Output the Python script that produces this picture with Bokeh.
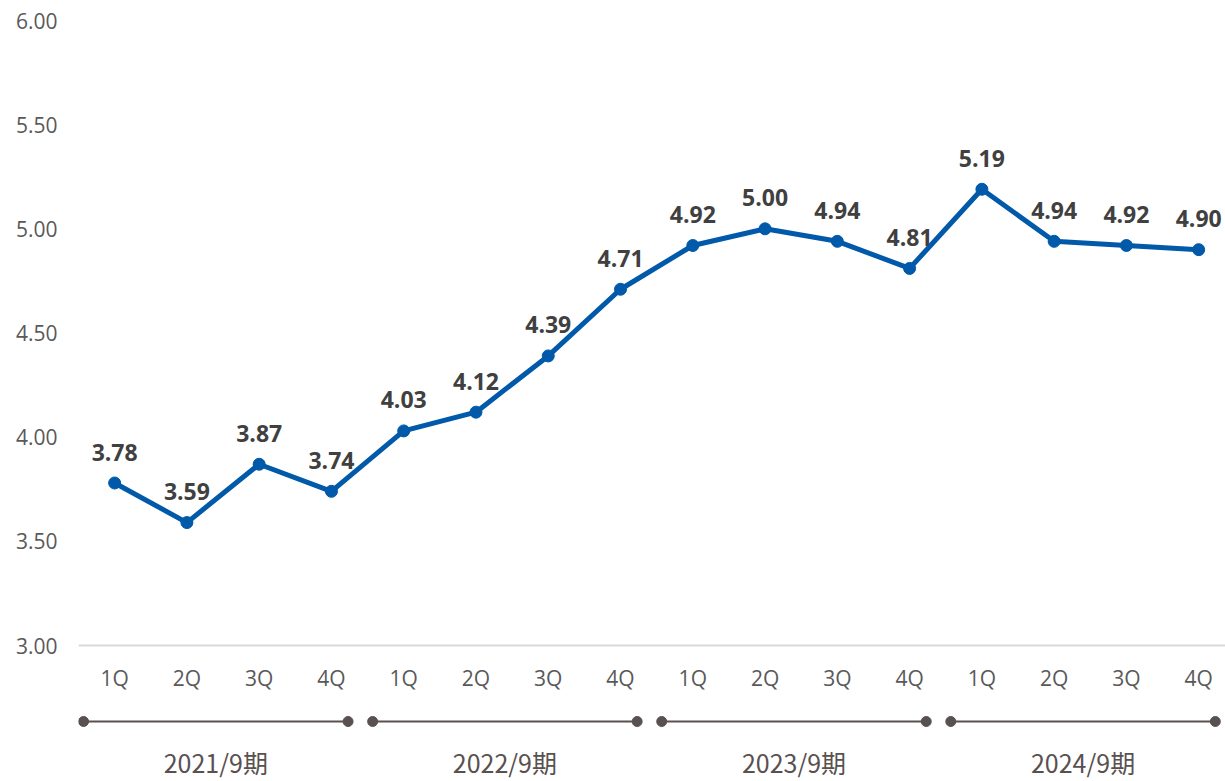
from bokeh.plotting import figure
from bokeh.models import Range1d, FixedTicker, Span, NumeralTickFormatter
from bokeh.core.properties import value
from bokeh.embed import file_html
from bokeh.resources import INLINE

# ---- data ----
quarters = ["1Q", "2Q", "3Q", "4Q"] * 4
values = [3.78, 3.59, 3.87, 3.74, 4.03, 4.12, 4.39, 4.71,
          4.92, 5.00, 4.94, 4.81, 5.19, 4.94, 4.92, 4.90]
labels = ["3.78", "3.59", "3.87", "3.74", "4.03", "4.12", "4.39", "4.71",
          "4.92", "5.00", "4.94", "4.81", "5.19", "4.94", "4.92", "4.90"]
years = ["2021/9期", "2022/9期", "2023/9期", "2024/9期"]
y_ticks = [3.0, 3.5, 4.0, 4.5, 5.0, 5.5, 6.0]

# ---- layout ----
W, H = 1225, 781
LEFT, TOP = 78, 20
px_per_unit = 625 / 3.0
px_per_cat = 72.27
frame_h = H - TOP
y_start = 6.0 - frame_h / px_per_unit
x_end = -0.5 + (W - LEFT) / px_per_cat

xs = list(range(len(values)))

p = figure(width=W, height=H, output_backend="svg", toolbar_location=None,
           x_range=Range1d(-0.5, x_end), y_range=Range1d(y_start, 6.0),
           min_border_left=LEFT, min_border_right=0, min_border_top=TOP,
           min_border_bottom=0)
p.outline_line_color = None
p.xgrid.visible = False
p.ygrid.visible = False
p.xaxis.visible = False
p.background_fill_color = "white"
p.border_fill_color = "white"

ax = p.yaxis[0]
ax.ticker = FixedTicker(ticks=y_ticks)
ax.formatter = NumeralTickFormatter(format="0.00")
ax.axis_line_color = None
ax.major_tick_line_color = None
ax.minor_tick_line_color = None
ax.major_tick_out = 0
ax.major_tick_in = 0
ax.major_label_standoff = 21
ax.major_label_text_font = "Open Sans"
ax.major_label_text_font_size = "21px"
ax.major_label_text_color = "#595959"

# baseline at 3.00
p.add_layout(Span(location=3.0, dimension="width", line_color="#d9d9d9", line_width=2))

# series
blue = "#0059a9"
p.line(xs, values, line_color=blue, line_width=5, line_join="round")
p.scatter(xs, values, size=12, fill_color=blue, line_color=blue)

p.text(xs, values, text=labels, text_font=value("Open Sans"), text_font_style="bold",
       text_font_size="23px", text_color="#404040", text_align="center",
       text_baseline="middle", y_offset=-31)

# category labels
cat_y = 3.0 - 32 / px_per_unit
p.text(xs, [cat_y] * len(xs), text=quarters, text_font=value("Open Sans"),
       text_font_size="21px", text_color="#595959", text_align="center",
       text_baseline="middle")

# year brackets
br_y = 3.0 - 76 / px_per_unit
grp = [4 * i for i in range(len(years))]
x0 = [g - 0.43 for g in grp]
x1 = [g + 3.23 for g in grp]
bcol = "#595050"
p.segment(x0, [br_y] * 4, x1, [br_y] * 4, line_color=bcol, line_width=2)
p.scatter(x0 + x1, [br_y] * 8, size=10, fill_color=bcol, line_color=bcol)

yr_y = 3.0 - 134 / px_per_unit
p.text([(a + b) / 2 for a, b in zip(x0, x1)], [yr_y] * 4, text=years,
       text_font=value("Noto Sans CJK JP"), text_font_size="25px",
       text_color=bcol, text_align="center", text_baseline="bottom")

open("out.html", "w").write(file_html(p, INLINE))
